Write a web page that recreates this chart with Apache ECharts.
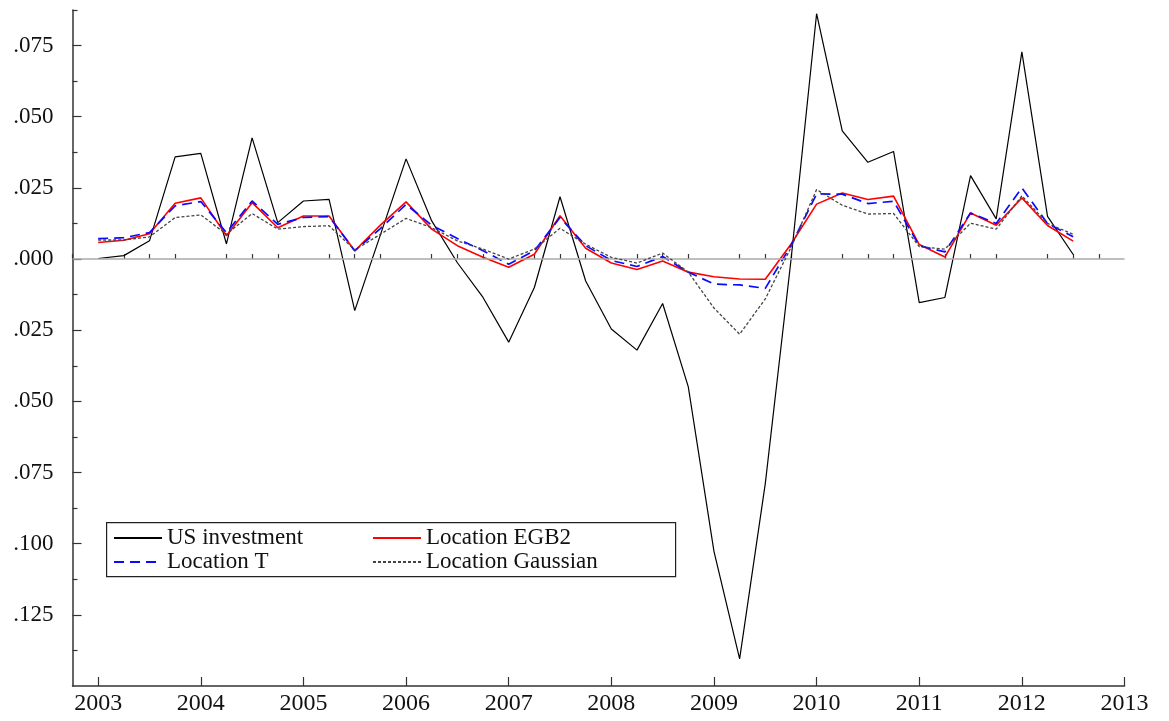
<!DOCTYPE html>
<html>
<head>
<meta charset="utf-8">
<script src="https://cdn.jsdelivr.net/npm/echarts@6/dist/echarts.min.js"></script>
<style>
  html, body { margin: 0; padding: 0; background: #fff; }
  #chart { width: 1169px; height: 721px; }
</style>
</head>
<body>
<div id="chart"></div>
<script>
// quarterly, 2003Q1 .. 2012Q3
var startYear = 2003;

var usInvestment = [0.0002, 0.0012, 0.0064, 0.0359, 0.0371, 0.0053, 0.0426, 0.0128,
  0.0204, 0.0210, -0.0181, 0.0085, 0.0352, 0.0134, -0.0013, -0.0135,
  -0.0292, -0.0100, 0.0219, -0.0077, -0.0246, -0.0320, -0.0156, -0.0449,
  -0.1027, -0.1405, -0.0789, -0.0005, 0.0862, 0.0450, 0.0340, 0.0378,
  -0.0153, -0.0135, 0.0293, 0.0141, 0.0728, 0.0150, 0.0016];

var locEGB2 = [0.0058, 0.0066, 0.0089, 0.0196, 0.0215, 0.0082, 0.0198, 0.0110,
  0.0151, 0.0151, 0.0029, 0.0119, 0.0201, 0.0105, 0.0047, 0.0006,
  -0.0029, 0.0017, 0.0152, 0.0038, -0.0014, -0.0037, -0.0007, -0.0046,
  -0.0062, -0.0070, -0.0071, 0.0052, 0.0193, 0.0232, 0.0209, 0.0221,
  0.0051, 0.0007, 0.0162, 0.0119, 0.0215, 0.0118, 0.0063];

var locT = [0.0072, 0.0075, 0.0093, 0.0187, 0.0202, 0.0093, 0.0204, 0.0122,
  0.0146, 0.0149, 0.0029, 0.0107, 0.0192, 0.0119, 0.0072, 0.0029,
  -0.0018, 0.0029, 0.0146, 0.0047, -0.0005, -0.0026, 0.0009, -0.0046,
  -0.0088, -0.0091, -0.0103, 0.0047, 0.0229, 0.0228, 0.0195, 0.0203,
  0.0047, 0.0025, 0.0162, 0.0125, 0.0250, 0.0125, 0.0078];

var locGaussian = [0.0067, 0.0067, 0.0078, 0.0146, 0.0155, 0.0087, 0.0160, 0.0105,
  0.0114, 0.0117, 0.0032, 0.0087, 0.0143, 0.0110, 0.0064, 0.0035,
  0.0000, 0.0035, 0.0108, 0.0052, 0.0006, -0.0014, 0.0021, -0.0046,
  -0.0172, -0.0264, -0.0140, 0.0040, 0.0244, 0.0189, 0.0158, 0.0160,
  0.0044, 0.0035, 0.0126, 0.0105, 0.0222, 0.0125, 0.0087];

var yearTicks = [2003, 2004, 2005, 2006, 2007, 2008, 2009, 2010, 2011, 2012, 2013];
var yLabelTicks = [-0.125, -0.1, -0.075, -0.05, -0.025, 0, 0.025, 0.05, 0.075];
var yMinorTicks = [-0.1375, -0.1125, -0.0875, -0.0625, -0.0375, -0.0125, 0.0125, 0.0375, 0.0625, 0.0875];

var quarterTicks = [];
for (var y = 2003; y < 2013; y++) {
  quarterTicks.push(y + 0.25, y + 0.5, y + 0.75);
}
quarterTicks.unshift(2002.75);

function toPairs(arr) {
  return arr.map(function (v, i) { return [startYear + i / 4, v]; });
}

var serif = 'Liberation Serif';
var myChart = echarts.init(document.getElementById('chart'));

var legendBase = {
  top: 526, orient: 'vertical', padding: 0, itemGap: 0,
  itemWidth: 48, itemHeight: 24,
  itemStyle: { opacity: 0 },
  textStyle: { fontFamily: serif, fontSize: 23, color: '#111', lineHeight: 24 }
};

var option = {
  animation: false,
  backgroundColor: '#fff',
  grid: { left: 72.5, right: 44.5, top: 10, bottom: 35, containLabel: false },
  xAxis: [{
    type: 'value', min: 2002.75, max: 2013, position: 'bottom',
    axisLine: { show: true, onZero: false, lineStyle: { color: '#333', width: 1.5 } },
    axisTick: { show: true, inside: true, length: 9, customValues: yearTicks, lineStyle: { color: '#333', width: 1.2 } },
    axisLabel: { customValues: yearTicks, margin: 6, fontFamily: serif, fontSize: 24, color: '#111',
      formatter: function (v) { return String(Math.round(v)); } },
    splitLine: { show: false }
  }, {
    type: 'value', min: 2002.75, max: 2013, position: 'bottom', offset: 0,
    axisLine: { show: false },
    axisTick: { show: true, inside: true, length: 5, customValues: quarterTicks, lineStyle: { color: '#333', width: 1.2 } },
    axisLabel: { show: false },
    splitLine: { show: false }
  }],
  yAxis: [{
    type: 'value', min: -0.15, max: 0.0875, position: 'left',
    axisLine: { show: true, onZero: false, lineStyle: { color: '#333', width: 1.5 } },
    axisTick: { show: true, inside: true, length: 9, customValues: yLabelTicks, lineStyle: { color: '#333', width: 1.2 } },
    axisLabel: { customValues: yLabelTicks, margin: 19, fontFamily: serif, fontSize: 23, color: '#111',
      formatter: function (v) { return Math.abs(v).toFixed(3).replace(/^0/, ''); } },
    splitLine: { show: false }
  }, {
    type: 'value', min: -0.15, max: 0.0875, position: 'left', offset: 0,
    axisLine: { show: false },
    axisTick: { show: true, inside: true, length: 5, customValues: yMinorTicks, lineStyle: { color: '#333', width: 1.2 } },
    axisLabel: { show: false },
    splitLine: { show: false }
  }],
  legend: [
    Object.assign({}, legendBase, { left: 113, data: ['US investment', 'Location T'] }),
    Object.assign({}, legendBase, { left: 372, data: ['Location EGB2', 'Location Gaussian'] })
  ],
  graphic: [{
    type: 'rect', left: 106, top: 522, z: 100,
    shape: { width: 569, height: 54 },
    style: { fill: 'rgba(0,0,0,0)', stroke: '#222', lineWidth: 1.2 }
  }],
  series: [{
    name: 'zero', type: 'line', data: [], z: 1, silent: true,
    markLine: {
      silent: true, symbol: 'none', label: { show: false },
      lineStyle: { color: '#aaa', width: 1.5, type: 'solid' },
      data: [{ yAxis: 0 }]
    }
  }, {
    name: 'US investment', type: 'line', data: toPairs(usInvestment), z: 2,
    showSymbol: false, symbol: 'none',
    lineStyle: { color: '#000', width: 1.2 }, itemStyle: { color: '#000' }
  }, {
    name: 'Location EGB2', type: 'line', data: toPairs(locEGB2), z: 3,
    showSymbol: false, symbol: 'none',
    lineStyle: { color: '#ff0000', width: 1.6 }, itemStyle: { color: '#ff0000' }
  }, {
    name: 'Location T', type: 'line', data: toPairs(locT), z: 4,
    showSymbol: false, symbol: 'none',
    lineStyle: { color: '#0a0aff', width: 1.7, type: [10, 6] }, itemStyle: { color: '#0a0aff' }
  }, {
    name: 'Location Gaussian', type: 'line', data: toPairs(locGaussian), z: 5,
    showSymbol: false, symbol: 'none',
    lineStyle: { color: '#444', width: 1.3, type: [3, 2] }, itemStyle: { color: '#444' }
  }]
};
myChart.setOption(option);
</script>
</body>
</html>
